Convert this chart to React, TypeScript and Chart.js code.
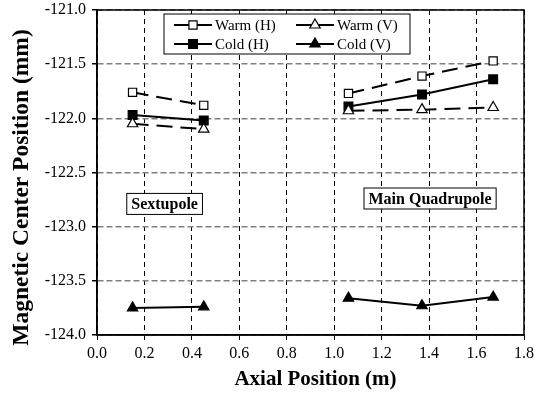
import React, { useEffect, useRef } from 'react';
import { Chart, registerables } from 'chart.js';

Chart.register(...registerables);

const seriesLabels = ['Warm (H)', 'Warm (V)', 'Cold (H)', 'Cold (V)'];
const sextupoleX = [0.15, 0.45];
const quadrupoleX = [1.06, 1.37, 1.67];

const warmHSext = [-121.76, -121.88];
const warmVSext = [-122.05, -122.1];
const coldHSext = [-121.97, -122.02];
const coldVSext = [-123.75, -123.74];

const warmHQuad = [-121.77, -121.61, -121.47];
const warmVQuad = [-121.93, -121.92, -121.9];
const coldHQuad = [-121.89, -121.78, -121.64];
const coldVQuad = [-123.66, -123.73, -123.65];

const xTicks = [0, 0.2, 0.4, 0.6, 0.8, 1.0, 1.2, 1.4, 1.6, 1.8];
const yTicks = [-124.0, -123.5, -123.0, -122.5, -122.0, -121.5, -121.0];

const xTitle = 'Axial Position (m)';
const yTitle = 'Magnetic Center Position (mm)';

const annotationTexts = ['Sextupole', 'Main Quadrupole'];
const annotationX = [0.285, 1.404];
const annotationY = [-122.79, -122.74];

const FONT = "'Liberation Serif', 'DejaVu Serif', serif";

function buildPoints(sext: number[], quad: number[]) {
  const pts: { x: number; y: number | null }[] = [];
  sext.forEach((y, i) => pts.push({ x: sextupoleX[i], y }));
  pts.push({ x: 0.75, y: null });
  quad.forEach((y, i) => pts.push({ x: quadrupoleX[i], y }));
  return pts;
}

const styles = [
  { dash: [16, 8], point: 'rect', fill: '#ffffff', radius: 5.8 },
  { dash: [16, 8], point: 'triangle', fill: '#ffffff', radius: 6 },
  { dash: [], point: 'rect', fill: '#000000', radius: 6.2 },
  { dash: [], point: 'triangle', fill: '#000000', radius: 6 },
];

const seriesData = [
  buildPoints(warmHSext, warmHQuad),
  buildPoints(warmVSext, warmVQuad),
  buildPoints(coldHSext, coldHQuad),
  buildPoints(coldVSext, coldVQuad),
];

const decorPlugin = {
  id: 'decor',
  afterDraw(chart: any) {
    const { ctx, chartArea } = chart;
    ctx.save();
    // frame
    ctx.strokeStyle = '#000';
    ctx.lineWidth = 1.5;
    ctx.setLineDash([]);
    ctx.strokeRect(chartArea.left, chartArea.top, chartArea.right - chartArea.left, chartArea.bottom - chartArea.top);

    // axis titles
    ctx.fillStyle = '#000';
    ctx.textAlign = 'center';
    ctx.textBaseline = 'middle';
    ctx.font = `bold 21px ${FONT}`;
    ctx.fillText(xTitle, chartArea.left + (chartArea.right - chartArea.left) / 2 + 5, 380);
    ctx.save();
    ctx.translate(22, chartArea.top + (chartArea.bottom - chartArea.top) / 2 + 15);
    ctx.rotate(-Math.PI / 2);
    ctx.font = `bold 23.5px ${FONT}`;
    ctx.fillText(yTitle, 0, 0);
    ctx.restore();

    // annotations
    const xs = chart.scales.x;
    const ys = chart.scales.y;
    ctx.font = `bold 16px ${FONT}`;
    ctx.textAlign = 'center';
    ctx.textBaseline = 'middle';
    annotationTexts.forEach((t, i) => {
      const cx = xs.getPixelForValue(annotationX[i]);
      const cy = ys.getPixelForValue(annotationY[i]);
      const w = ctx.measureText(t).width + 9;
      const h = 21;
      ctx.fillStyle = '#fff';
      ctx.fillRect(cx - w / 2, cy - h / 2, w, h);
      ctx.strokeStyle = '#000';
      ctx.lineWidth = 1;
      ctx.strokeRect(cx - w / 2, cy - h / 2, w, h);
      ctx.fillStyle = '#000';
      ctx.fillText(t, cx, cy + 1);
    });

    // legend
    const lx = 164, ly = 14, lw = 246, lh = 40;
    ctx.fillStyle = '#fff';
    ctx.fillRect(lx, ly, lw, lh);
    ctx.strokeStyle = '#000';
    ctx.lineWidth = 1;
    ctx.strokeRect(lx, ly, lw, lh);
    const cols = [174, 296];
    const rows = [25, 44];
    ctx.font = `15px ${FONT}`;
    ctx.textAlign = 'left';
    ctx.textBaseline = 'middle';
    seriesLabels.forEach((label, i) => {
      const c = i % 2;
      const r = Math.floor(i / 2);
      const x0 = cols[c];
      const y0 = rows[r];
      ctx.strokeStyle = '#000';
      ctx.lineWidth = 2;
      ctx.beginPath();
      ctx.moveTo(x0, y0);
      ctx.lineTo(x0 + 38, y0);
      ctx.stroke();
      const st = styles[i];
      const mx = x0 + 19;
      ctx.fillStyle = st.fill;
      ctx.lineWidth = 1.2;
      ctx.beginPath();
      if (st.point === 'rect') {
        const s = st.radius * Math.SQRT1_2;
        ctx.rect(mx - s, y0 - s, 2 * s, 2 * s);
      } else {
        const rr = st.radius;
        ctx.moveTo(mx, y0 - rr);
        ctx.lineTo(mx + rr * Math.sin((2 * Math.PI) / 3), y0 - rr * Math.cos((2 * Math.PI) / 3));
        ctx.lineTo(mx + rr * Math.sin((4 * Math.PI) / 3), y0 - rr * Math.cos((4 * Math.PI) / 3));
        ctx.closePath();
      }
      ctx.fill();
      ctx.stroke();
      ctx.fillStyle = '#000';
      ctx.fillText(label, x0 + 41, y0 + 1);
    });
    ctx.restore();
  },
};

export default function App() {
  const canvasRef = useRef<HTMLCanvasElement | null>(null);

  useEffect(() => {
    if (!canvasRef.current) return;
    const chart = new Chart(canvasRef.current, {
      type: 'line',
      data: {
        datasets: seriesLabels.map((label, i) => ({
          label,
          data: seriesData[i] as any,
          borderColor: '#000',
          borderWidth: 2,
          borderDash: styles[i].dash,
          pointStyle: styles[i].point as any,
          pointRadius: styles[i].radius,
          pointBackgroundColor: styles[i].fill,
          pointBorderColor: '#000',
          pointBorderWidth: 1.2,
          spanGaps: false,
          tension: 0,
          fill: false,
        })),
      },
      options: {
        animation: false,
        responsive: false,
        maintainAspectRatio: false,
        layout: { padding: { top: 10, right: 11, left: 0, bottom: 0 } },
        plugins: { legend: { display: false }, tooltip: { enabled: false } },
        scales: {
          x: {
            type: 'linear',
            min: 0,
            max: 1.8,
            afterBuildTicks: (scale: any) => {
              scale.ticks = xTicks.map((v) => ({ value: v }));
            },
            afterFit: (scale: any) => {
              scale.height = 60;
              scale.paddingLeft = 0;
              scale.paddingRight = 0;
            },
            ticks: {
              color: '#000',
              font: { family: FONT, size: 16 },
              padding: 4,
              maxRotation: 0,
              callback: (v: any) => Number(v).toFixed(1),
            },
            grid: {
              color: '#000',
              lineWidth: 1,
              tickLength: 5,
              tickColor: '#000',
            },
            border: { display: true, color: '#000', width: 1.5, dash: [5, 4] },
            title: { display: false, text: xTitle },
          },
          y: {
            type: 'linear',
            min: -124,
            max: -121,
            afterBuildTicks: (scale: any) => {
              scale.ticks = yTicks.map((v) => ({ value: v }));
            },
            afterFit: (scale: any) => {
              scale.width = 97;
              scale.paddingTop = 0;
              scale.paddingBottom = 0;
            },
            ticks: {
              color: '#000',
              font: { family: FONT, size: 16 },
              padding: 6,
              callback: (v: any) => Number(v).toFixed(1),
            },
            grid: {
              color: '#808080',
              lineWidth: 1.5,
              tickLength: 5,
              tickColor: '#000',
            },
            border: { display: true, color: '#000', width: 1.5, dash: [6, 3] },
            title: { display: false, text: yTitle },
          },
        },
      },
      plugins: [decorPlugin],
    });
    return () => chart.destroy();
  }, []);

  return (
    <div style={{ position: 'fixed', left: 0, top: 0, width: 535, height: 395, background: '#fff' }}>
      <canvas ref={canvasRef} width={535} height={395} style={{ width: 535, height: 395 }} />
    </div>
  );
}
